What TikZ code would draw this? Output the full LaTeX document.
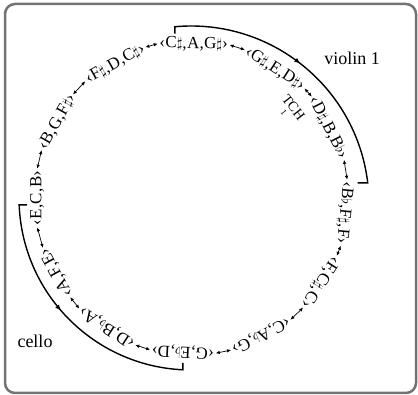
\documentclass[tikz,border=0pt]{standalone}
\usepackage{fontspec}
\setmainfont{Liberation Serif}
\newfontfamily\triadfont[LetterSpace=2]{Liberation Serif}
\usepackage{graphicx}
\usetikzlibrary{arrows.meta,decorations.markings}
\newcommand{\shp}{\scalebox{0.85}{$\sharp$}}
\newcommand{\flt}{\scalebox{0.85}{$\flat$}}
\tikzset{
  triad/.style={font=\triadfont\fontsize{17}{19}\selectfont, inner ysep=0pt, inner xsep=0.5pt},
  link/.style={{Latex[length=4pt,width=3.5pt]}-{Latex[length=4pt,width=3.5pt]}, line width=0.7pt, shorten <=1.2pt, shorten >=1.2pt},
  part/.style={line width=1.4pt},
  midarrow/.style={postaction={decorate}, decoration={markings, mark=at position #1 with {\arrow{Latex[length=6pt,width=5pt]}}}},
  tag/.style={font=\fontsize{18}{20}\selectfont},
  tchlabel/.style={font=\fontsize{14}{12}\selectfont, align=left, inner sep=0pt},
  frame/.style={draw=black!55, line width=2.5pt, rounded corners=10pt}
}
\begin{document}
\begin{tikzpicture}[x=1pt,y=1pt]
\useasboundingbox (0,0) rectangle (418,395);
\draw[frame] (5,2) rectangle (416,391);
\begin{scope}[shift={(191,197)}]
\node[triad, rotate=-1]    (n1)  at (89:154)    {‹C\shp,A,G\shp›};
\node[triad, rotate=-33]   (n2)  at (57:154)    {‹G\shp,E,D\shp›};
\node[triad, rotate=-63]   (n3)  at (27:154)    {‹D\shp,B,B\flt›};
\node[triad, rotate=-95.5] (n4)  at (-5.5:154)  {‹B\flt,F\shp,F›};
\node[triad, rotate=-123]  (n5)  at (-33:154)   {‹F,C\shp,C›};
\node[triad, rotate=-153]  (n6)  at (-63:154)   {‹C,A\flt,G›};
\node[triad, rotate=-183]  (n7)  at (-93:154)   {‹G,E\flt,D›};
\node[triad, rotate=-213]  (n8)  at (-123:154)  {‹D,B\flt,A›};
\node[triad, rotate=-241]  (n9)  at (-151:154)  {‹A,F,E›};
\node[triad, rotate=90]    (n10) at (180:154)   {‹E,C,B›};
\node[triad, rotate=60.5]  (n11) at (150.5:154) {‹B,G,F\shp›};
\node[triad, rotate=29.5]  (n12) at (119.5:154) {‹F\shp,D,C\shp›};
\draw[link] (n1.east) -- (n2.west);
\draw[link] (n2.east) -- (n3.west);
\draw[link] (n3.east) -- (n4.west);
\draw[link] (n4.east) -- (n5.west);
\draw[link] (n5.east) -- (n6.west);
\draw[link] (n6.east) -- (n7.west);
\draw[link] (n7.east) -- (n8.west);
\draw[link] (n8.east) -- (n9.west);
\draw[link] (n9.east) -- (n10.west);
\draw[link] (n10.east) -- (n11.west);
\draw[link] (n11.east) -- (n12.west);
\draw[link] (n12.east) -- (n1.west);
\end{scope}
\coordinate (vs) at ([shift={(191,191)}]95.2:178);
\coordinate (cs) at ([shift={(191,197)}]182.3:172);
\draw[part, midarrow=141pt] ([yshift=-7pt]vs) -- (vs) arc[start angle=95.2, end angle=6.8, radius=178] -- ++(-10,0);
\draw[part, midarrow=124pt] ([xshift=8pt]cs) -- (cs) arc[start angle=182.3, end angle=267.3, radius=172] -- ++(0,7);
\node[tag] (violin) at (352,337) {violin 1};
\node[tag] (cello) at (35,54) {cello};
\node[tchlabel, rotate=-52] (tch) at (290,285) {TCH\\[-3pt]\hspace*{0.7em}{\fontsize{9}{9}\selectfont 1}};
\end{tikzpicture}
\end{document}
